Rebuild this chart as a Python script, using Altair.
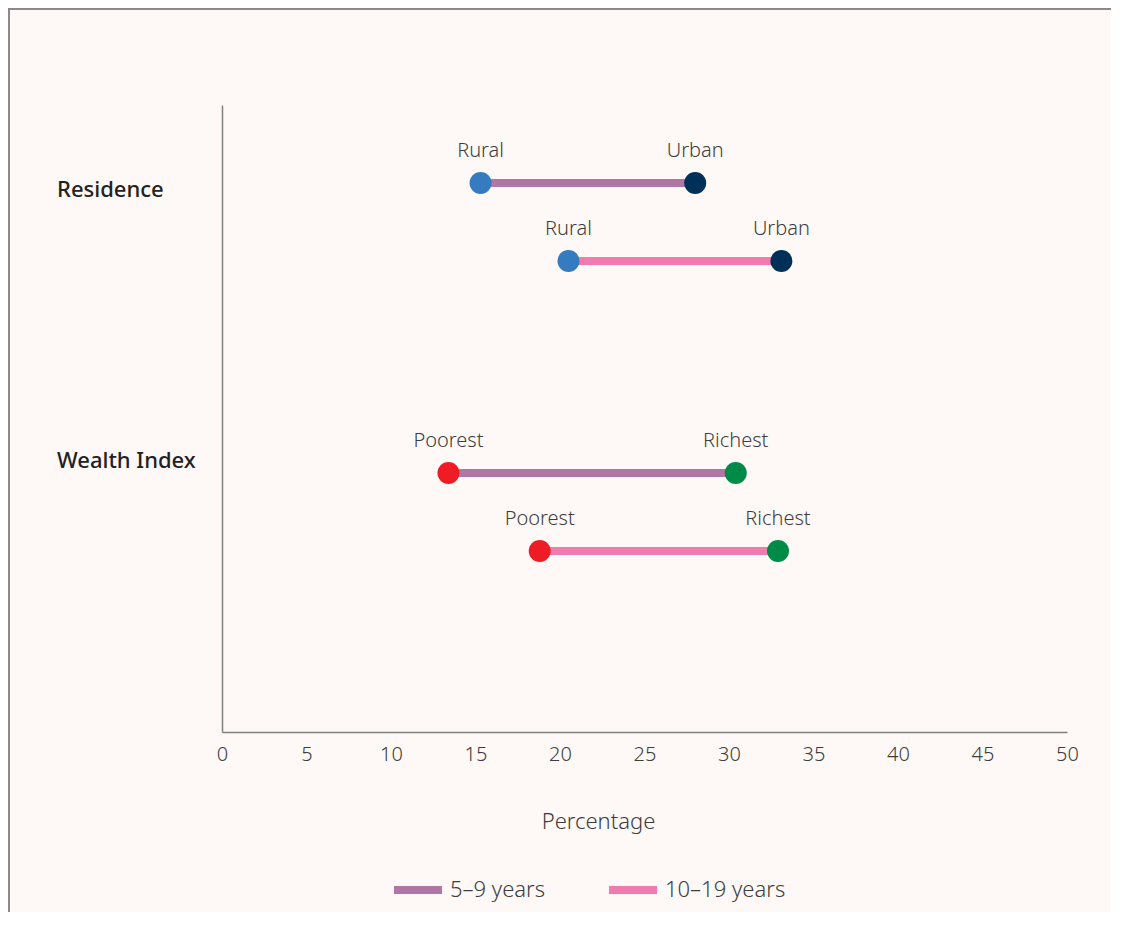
import altair as alt
import pandas as pd

# ---- data ----
categories = ["Residence", "Residence", "Wealth Index", "Wealth Index"]
age_groups = ["5–9 years", "10–19 years", "5–9 years", "10–19 years"]
low_labels = ["Rural", "Rural", "Poorest", "Poorest"]
low_values = [15.3, 20.5, 13.4, 18.8]
high_labels = ["Urban", "Urban", "Richest", "Richest"]
high_values = [28.0, 33.1, 30.4, 32.9]

category_order = ["Residence", "Wealth Index"]
group_order = ["5–9 years", "10–19 years"]
group_colors = ["#b077a6", "#f27aae"]
end_order = ["Rural", "Urban", "Poorest", "Richest"]
end_colors = ["#347bc0", "#003057", "#ee1c25", "#008a47"]
x_ticks = [0, 5, 10, 15, 20, 25, 30, 35, 40, 45, 50]

seg = pd.DataFrame({
    "category": categories,
    "group": age_groups,
    "low": low_values,
    "high": high_values,
})
pts = pd.DataFrame({
    "category": categories + categories,
    "group": age_groups + age_groups,
    "label": low_labels + high_labels,
    "value": low_values + high_values,
})
cats = pd.DataFrame({"category": category_order})

FONT = "Noto Sans"
AXIS_GRAY = "#808080"
TEXT = "#3d3d3d"

W, H = 845, 627
PAD = {"left": 214, "top": 97, "right": 44, "bottom": 180}

xscale = alt.Scale(domain=[0, 50], nice=False, zero=True)
yscale = alt.Scale(domain=category_order, paddingInner=0.462,
                   paddingOuter=0.312, align=0.2155)
yoff_scale = alt.Scale(domain=group_order, paddingInner=0, paddingOuter=0)

x_axis = alt.Axis(values=x_ticks, grid=False, ticks=False, tickSize=0,
                  domainColor=AXIS_GRAY, domainWidth=1.5, labelFlush=False,
                  labelFont=FONT, labelFontSize=20, labelColor=TEXT,
                  labelPadding=12, labelFontWeight=300,
                  title="Percentage", titleFont=FONT, titleFontSize=22,
                  titleFontWeight=300, titleColor=TEXT,
                  titleX=376, titleY=89, titleBaseline="middle",
                  titleAnchor="start", titleAlign="center")
y_axis = alt.Axis(labels=False, ticks=False, tickSize=0, grid=False,
                  title=None, domainColor=AXIS_GRAY, domainWidth=1.5)

X = lambda f: alt.X(f, type="quantitative", scale=xscale, axis=x_axis)
Y = alt.Y("category:N", scale=yscale, axis=y_axis)
YOFF = alt.YOffset("group:N", scale=yoff_scale)

rules = alt.Chart(seg).mark_rule(strokeWidth=8).encode(
    x=X("low"),
    x2="high:Q",
    y=Y,
    yOffset=YOFF,
    stroke=alt.Stroke("group:N", scale=alt.Scale(domain=group_order, range=group_colors),
                      legend=alt.Legend(title=None, orient="none", legendX=168, legendY=757,
                                        direction="horizontal", symbolType="stroke",
                                        symbolSize=2304, symbolStrokeWidth=8,
                                        labelFont=FONT, labelFontSize=22, labelColor=TEXT,
                                        labelFontWeight=300,
                                        labelOffset=4, columnPadding=47, padding=0)),
)

dots = alt.Chart(pts).mark_circle(size=484, opacity=1).encode(
    x=X("value"),
    y=Y,
    yOffset=YOFF,
    fill=alt.Fill("label:N", scale=alt.Scale(domain=end_order, range=end_colors), legend=None),
)

dot_labels = alt.Chart(pts).mark_text(dy=-32, font=FONT, fontSize=20, color=TEXT,
                                      baseline="middle", align="center", fontWeight=300).encode(
    x=X("value"),
    y=Y,
    yOffset=YOFF,
    text="label:N",
)

cat_res = alt.Chart(cats).transform_filter(alt.datum.category == "Residence").mark_text(
    dy=-32, font=FONT, fontSize=22, fontWeight=500, color="#222222",
    align="left", baseline="middle").encode(
    x=alt.value(-165), y=Y, text="category:N")
cat_wealth = alt.Chart(cats).transform_filter(alt.datum.category == "Wealth Index").mark_text(
    dy=-51, font=FONT, fontSize=22, fontWeight=500, color="#222222",
    align="left", baseline="middle").encode(
    x=alt.value(-165), y=Y, text="category:N")

frame = pd.DataFrame({"k": [0]})
top_border = alt.Chart(frame).mark_rule(color="#8a8a8a", strokeWidth=2).encode(
    x=alt.value(-214), x2=alt.value(W + PAD["right"]), y=alt.value(-96), y2=alt.value(-96))
left_border = alt.Chart(frame).mark_rule(color="#8a8a8a", strokeWidth=2).encode(
    x=alt.value(-213), x2=alt.value(-213), y=alt.value(-97), y2=alt.value(H + PAD["bottom"]))

chart = alt.layer(rules, dots, dot_labels, cat_res, cat_wealth, top_border, left_border).properties(
    width=W, height=H,
    autosize=alt.AutoSizeParams(type="none"),
    padding=PAD,
    background="#fef9f6",
).configure_view(stroke=None)

chart.save("out.html", embed_options={"renderer": "svg", "actions": False})
